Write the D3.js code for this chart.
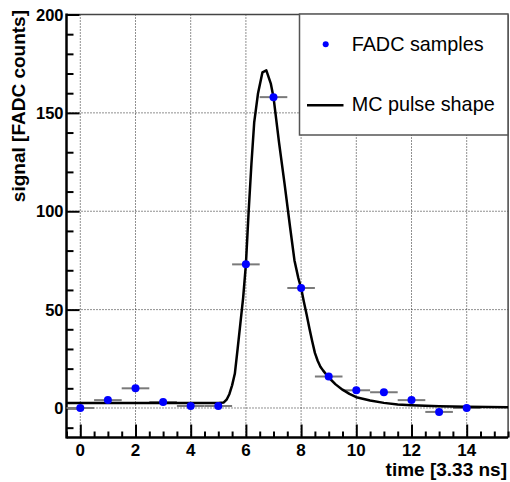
<!DOCTYPE html>
<html><head><meta charset="utf-8">
<script src="https://cdn.jsdelivr.net/npm/d3@7"></script>
<style>body{margin:0;background:#fff}svg{display:block}</style>
</head><body>
<script>
// FADC samples
const sampleX = [0,1,2,3,4,5,6,7,8,9,10,11,12,13,14];
const sampleY = [0,4,10,3,1,1,73,158,61,16,9,8,4,-2,0];
// MC pulse shape
const mcX = [-0.5,5.0,5.2,5.3,5.4,5.5,5.6,5.7,5.8,5.9,6.0,6.1,6.2,6.3,6.44,6.6,6.74,6.9,7.0,7.2,7.4,7.6,7.76,7.9,8.0,8.1,8.2,8.3,8.4,8.5,8.6,8.7,8.8,9.0,9.25,9.5,9.75,10,10.5,11,11.5,12,13,14,15.5];
const mcY = [2.5,2.5,2.8,4.2,7,11.5,17.5,30,43,56,73,100,124,145,160,170.6,171.6,165,158,135,114,92,75,66,61,54,47.5,40.5,34,28,24,21,19,15.5,12,9.3,7.2,5.5,3.8,2.6,1.8,1.4,0.9,0.6,0.4];
const xMajorTicks = [0,2,4,6,8,10,12,14];
const yMajorTicks = [0,50,100,150,200];
const legendLabels = ["FADC samples","MC pulse shape"];
const xTitle = "time [3.33 ns]";
const yTitle = "signal [FADC counts]";

const W=510,H=482;
const svg=d3.select("body").append("svg").attr("width",W).attr("height",H);
const x=d3.scaleLinear().domain([-0.5,15.5]).range([66.5,508.1]);
const y=d3.scaleLinear().domain([-15,200]).range([437.5,14.5]);
const L=66.5,R=508.1,T=14.5,B=437.5;

// grid
const g=svg.append("g");
g.selectAll(".gx").data(xMajorTicks).join("line")
 .attr("x1",d=>x(d)).attr("x2",d=>x(d)).attr("y1",T).attr("y2",B)
 .attr("stroke","#222").attr("stroke-width",1).attr("stroke-dasharray","1,2");
g.selectAll(".gy").data(yMajorTicks.filter(d=>d<200)).join("line")
 .attr("y1",d=>y(d)).attr("y2",d=>y(d)).attr("x1",L).attr("x2",R)
 .attr("stroke","#222").attr("stroke-width",1).attr("stroke-dasharray","1,2");

// frame top/right
svg.append("line").attr("x1",L).attr("x2",R).attr("y1",T).attr("y2",T).attr("stroke","#444").attr("stroke-width",1.5);
svg.append("line").attr("x1",R).attr("x2",R).attr("y1",T).attr("y2",B).attr("stroke","#444").attr("stroke-width",1.5);

// axes with D3
const xMinor=d3.range(-0.5,15.51,0.5).filter(v=>Math.abs(v/2-Math.round(v/2))>1e-6);
const yMinor=d3.range(-10,200,10).filter(v=>v%50!==0);
const xAxisMinor=d3.axisTop(x).tickValues(xMinor).tickSize(6).tickFormat("");
const xAxisMajor=d3.axisTop(x).tickValues(xMajorTicks).tickSize(13).tickFormat("");
const yAxisMinor=d3.axisRight(y).tickValues(yMinor).tickSize(7).tickFormat("");
const yAxisMajor=d3.axisRight(y).tickValues(yMajorTicks).tickSize(13).tickFormat("");
[xAxisMinor,xAxisMajor].forEach(a=>{
  const ax=svg.append("g").attr("transform",`translate(0,${B})`).call(a);
  ax.select(".domain").remove();
  ax.selectAll("line").attr("stroke","#000").attr("stroke-width",2);
});
[yAxisMinor,yAxisMajor].forEach(a=>{
  const ax=svg.append("g").attr("transform",`translate(${L},0)`).call(a);
  ax.select(".domain").remove();
  ax.selectAll("line").attr("stroke","#000").attr("stroke-width",2);
});
svg.append("line").attr("x1",L).attr("x2",R).attr("y1",B).attr("y2",B).attr("stroke","#000").attr("stroke-width",2.5);
svg.append("line").attr("x1",L).attr("x2",L).attr("y1",T-1).attr("y2",B+1).attr("stroke","#000").attr("stroke-width",2.5);

// tick labels
const font="'Liberation Sans', Arial, Helvetica, sans-serif";
svg.selectAll(".xl").data(xMajorTicks).join("text")
 .attr("x",d=>x(d)).attr("y",456).attr("text-anchor","middle")
 .attr("font-family",font).attr("font-weight","bold").attr("font-size","17px").text(d=>d);
svg.selectAll(".yl").data(yMajorTicks).join("text")
 .attr("x",63.5).attr("y",d=>y(d)+6).attr("text-anchor","end")
 .attr("font-family",font).attr("font-weight","bold").attr("font-size","16.5px").text(d=>d);

// titles
svg.append("text").attr("x",507).attr("y",476).attr("text-anchor","end")
 .attr("font-family",font).attr("font-weight","bold").attr("font-size","19px").text(xTitle);
svg.append("text").attr("transform","translate(25,10) rotate(-90)").attr("text-anchor","end")
 .attr("font-family",font).attr("font-weight","bold").attr("font-size","19px").text(yTitle);

// legend box
svg.append("rect").attr("x",299.5).attr("y",14).attr("width",208.5).attr("height",121)
 .attr("fill","#fff").attr("stroke","#555").attr("stroke-width",1.5);

// error bars
svg.selectAll(".eb").data(sampleX).join("line")
 .attr("x1",d=>x(d-0.5)).attr("x2",d=>x(d+0.5))
 .attr("y1",(d,i)=>y(sampleY[i])).attr("y2",(d,i)=>y(sampleY[i]))
 .attr("stroke","#7a7a7a").attr("stroke-width",2);

// MC curve
const line=d3.line().x((d,i)=>x(mcX[i])).y((d,i)=>y(mcY[i]));
svg.append("path").datum(mcX).attr("d",line).attr("fill","none")
 .attr("stroke","#000").attr("stroke-width",2.5).attr("stroke-linejoin","round");

// points
svg.selectAll(".pt").data(sampleX).join("circle")
 .attr("cx",d=>x(d)).attr("cy",(d,i)=>y(sampleY[i])).attr("r",4).attr("fill","#0000ff");

// legend entries
svg.append("circle").attr("cx",325.7).attr("cy",44.3).attr("r",3).attr("fill","#0000ff");
svg.append("line").attr("x1",307).attr("x2",343.5).attr("y1",105.3).attr("y2",105.3).attr("stroke","#000").attr("stroke-width",2.5);
svg.append("text").attr("x",351.7).attr("y",51).attr("font-family",font).attr("font-size","19.8px").text(legendLabels[0]);
svg.append("text").attr("x",351.7).attr("y",111).attr("font-family",font).attr("font-size","19.8px").text(legendLabels[1]);
</script>
</body></html>
